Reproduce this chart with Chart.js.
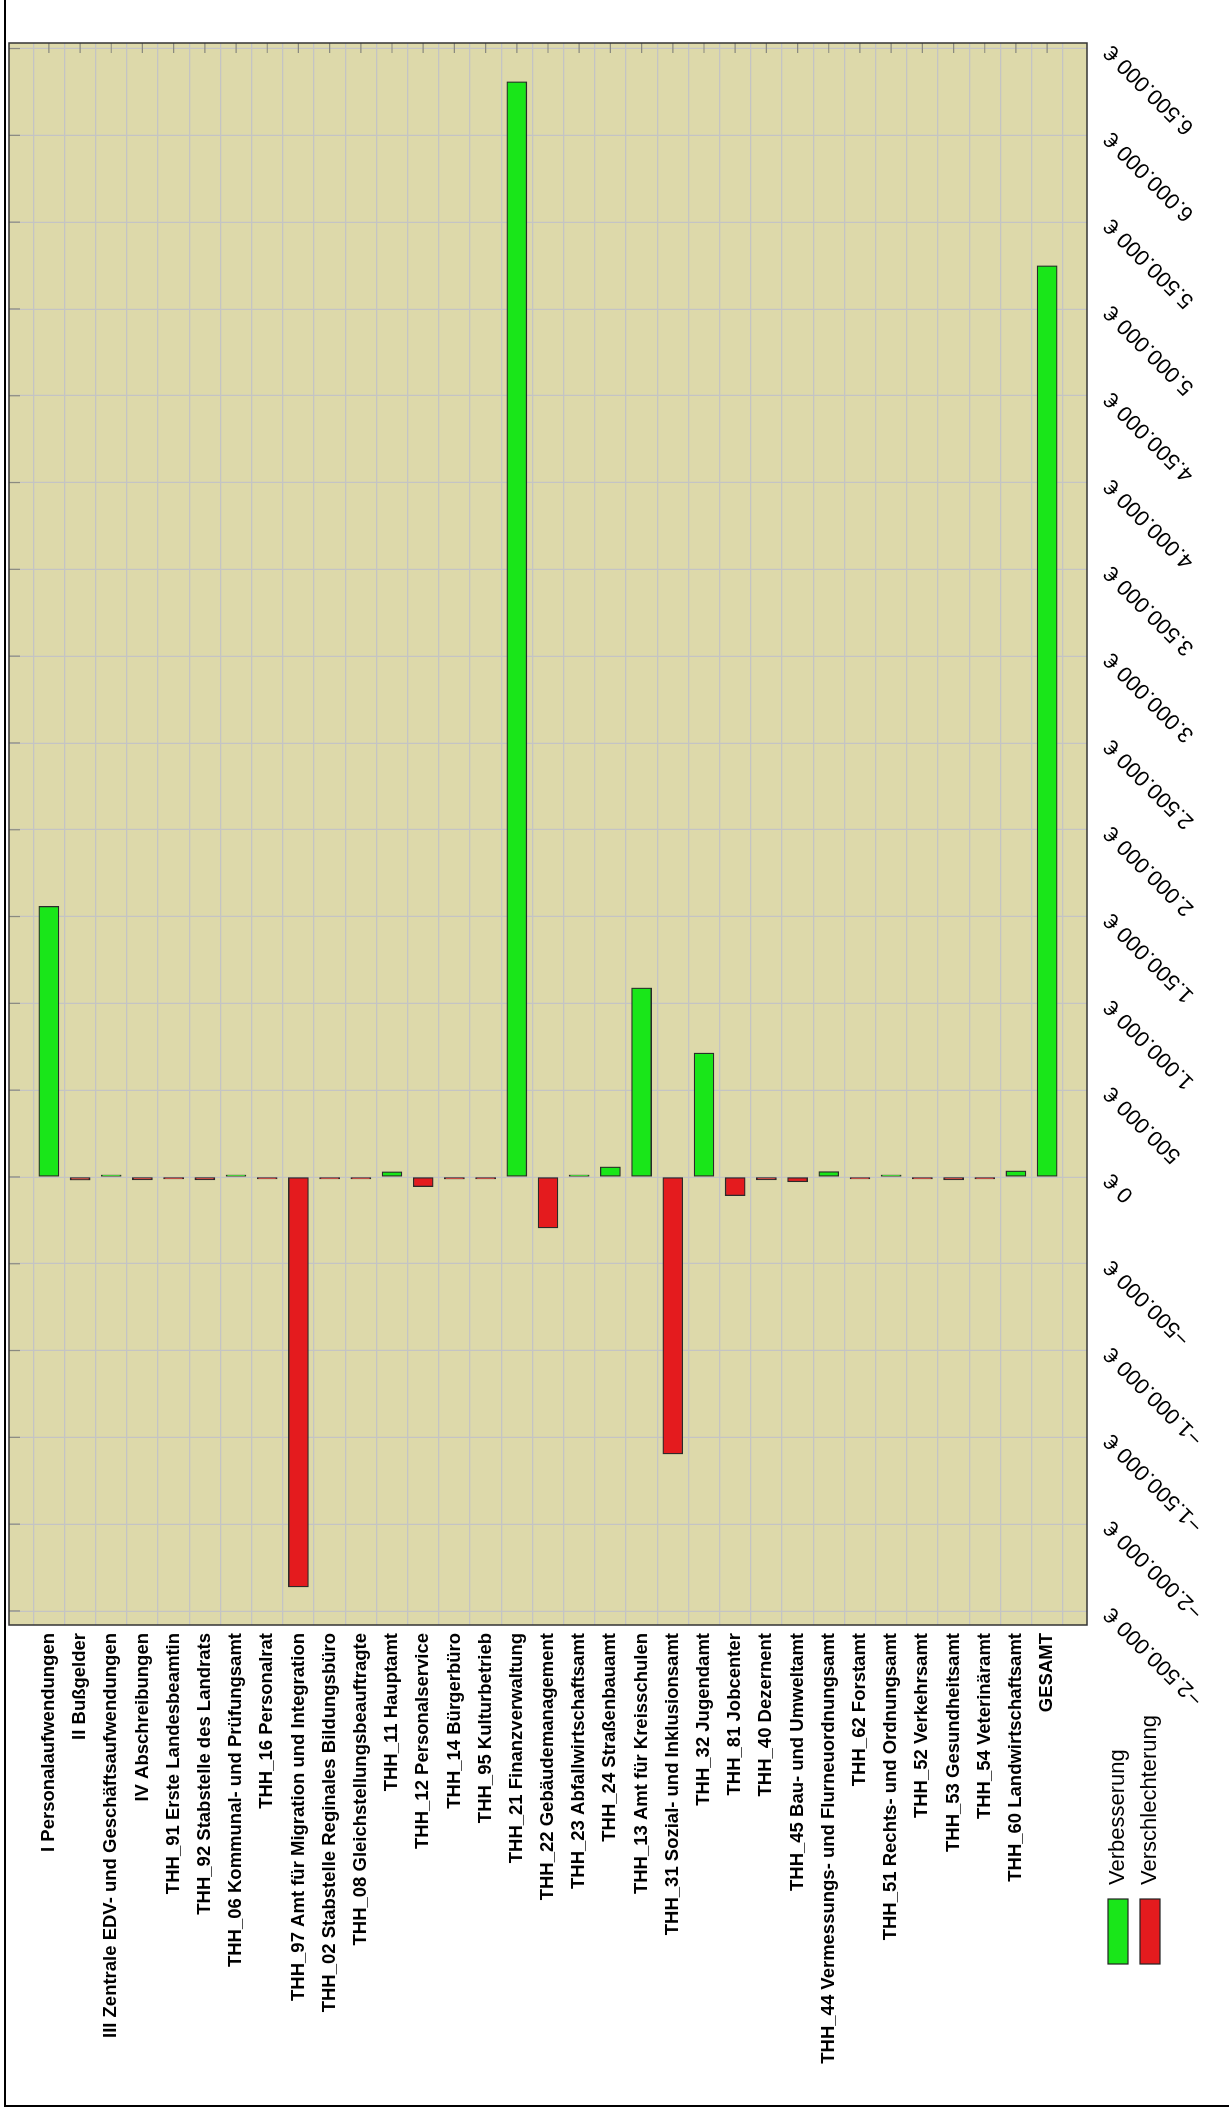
<!DOCTYPE html>
<html>
<head>
<meta charset="utf-8">
<script src="https://cdn.jsdelivr.net/npm/chart.js@4.4.0/dist/chart.umd.min.js"></script>
<style>
html,body{margin:0;padding:0;background:#fff;overflow:hidden}
#wrap{position:absolute;left:0;top:0;width:2111px;height:1229px;transform-origin:0 0;transform:translateY(2111px) rotate(-90deg);background:#fff}
#rahmen{position:absolute;left:4px;top:4px;width:2107px;height:1225px;border-left:2px solid #000;border-top:2px solid #000}
canvas{position:absolute;left:0;top:0}
</style>
</head>
<body>
<div id="wrap">
  <canvas id="chart" width="2111" height="1229"></canvas>
  <div id="rahmen"></div>
</div>
<script>
const kategorien = [
  "I Personalaufwendungen",
  "II Bußgelder",
  "III Zentrale EDV- und Geschäftsaufwendungen",
  "IV Abschreibungen",
  "THH_91 Erste Landesbeamtin",
  "THH_92 Stabstelle des Landrats",
  "THH_06 Kommunal- und Prüfungsamt",
  "THH_16 Personalrat",
  "THH_97 Amt für Migration und Integration",
  "THH_02 Stabstelle Reginales Bildungsbüro",
  "THH_08 Gleichstellungsbeauftragte",
  "THH_11 Hauptamt",
  "THH_12 Personalservice",
  "THH_14 Bürgerbüro",
  "THH_95 Kulturbetrieb",
  "THH_21 Finanzverwaltung",
  "THH_22 Gebäudemanagement",
  "THH_23 Abfallwirtschaftsamt",
  "THH_24 Straßenbauamt",
  "THH_13 Amt für Kreisschulen",
  "THH_31 Sozial- und Inklusionsamt",
  "THH_32 Jugendamt",
  "THH_81 Jobcenter",
  "THH_40 Dezernent",
  "THH_45 Bau- und Umweltamt",
  "THH_44 Vermessungs- und Flurneuordnungsamt",
  "THH_62 Forstamt",
  "THH_51 Rechts- und Ordnungsamt",
  "THH_52 Verkehrsamt",
  "THH_53 Gesundheitsamt",
  "THH_54 Veterinäramt",
  "THH_60 Landwirtschaftsamt",
  "GESAMT"
]

// Abweichung je Teilhaushalt in Euro
const werte = [
  1559000, -18000, 2000, -17000, -2000, -17000, 8000, -5000,
  -2362000, -5000, -8000, 30000, -56000, -12000, -9000, 6309000,
  -294000, 1000, 58000, 1089000, -1596000, 714000, -108000, -17000,
  -28000, 31000, -3000, 6000, -1000, -17000, -3000, 35000,
  5249000
]

const wertTicks = [
  -2500000, -2000000, -1500000, -1000000, -500000, 0,
  500000, 1000000, 1500000, 2000000, 2500000, 3000000, 3500000,
  4000000, 4500000, 5000000, 5500000, 6000000, 6500000
]

const serien = ["Verbesserung", "Verschlechterung"]
const farben = ["#19e619", "#e41b1e"]

const punkte = werte.map((v,i)=>({ x:v, y:i }))

function euro(v){
  const s = Math.abs(v).toLocaleString("de-DE")
  return (v<0 ? "\u2212" : "") + s + " \u20ac"
}

const hintergrund = {
  id:"hintergrund",
  beforeDraw(chart){
    const a = chart.chartArea, ctx = chart.ctx
    ctx.save()
    ctx.fillStyle = "#ddd9aa"
    ctx.fillRect(a.left, a.top, a.right-a.left, a.bottom-a.top)
    ctx.restore()
  },
  afterDraw(chart){
    const a = chart.chartArea, ctx = chart.ctx
    const sx = chart.scales.x, sy = chart.scales.y
    ctx.save()
    // kleine Striche innen am Rand
    ctx.strokeStyle = "#8a8a80"
    ctx.lineWidth = 1.2
    ctx.beginPath()
    wertTicks.forEach(v=>{
      const px = sx.getPixelForValue(v)
      ctx.moveTo(px, a.top); ctx.lineTo(px, a.top+11)
    })
    kategorien.forEach((k,i)=>{
      const py = sy.getPixelForValue(i)
      ctx.moveTo(a.right, py); ctx.lineTo(a.right-10, py)
    })
    ctx.stroke()
    ctx.strokeStyle = "#333"
    ctx.lineWidth = 1.5
    ctx.strokeRect(a.left, a.top, a.right-a.left, a.bottom-a.top)
    // Legende
    ctx.font = "22px 'Liberation Sans', Arial, sans-serif"
    ctx.textBaseline = "middle"
    ctx.textAlign = "left"
    chart.data.datasets.forEach((ds,i)=>{
      const y = 1108 + i*32
      ctx.fillStyle = ds.backgroundColor
      ctx.fillRect(147, y, 65, 20)
      ctx.strokeStyle = "#222"
      ctx.lineWidth = 1.2
      ctx.strokeRect(147, y, 65, 20)
      ctx.fillStyle = "#000"
      ctx.fillText(ds.label, 226, y+10)
    })
    ctx.restore()
  }
}

new Chart(document.getElementById("chart"), {
  type:"bar",
  data:{
    datasets:[
      { label:serien[0], data:punkte.filter(p=>p.x>=0), backgroundColor:farben[0] },
      { label:serien[1], data:punkte.filter(p=>p.x<0), backgroundColor:farben[1] }
    ]
  },
  options:{
    indexAxis:"y",
    responsive:false,
    animation:false,
    layout:{ padding:{ top:9, right:43, bottom:0, left:0 } },
    datasets:{ bar:{ grouped:false, barThickness:20, borderColor:"#2a2a2a", borderWidth:1.3, borderSkipped:false, minBarLength:2 } },
    plugins:{ legend:{ display:false }, tooltip:{ enabled:false } },
    scales:{
      x:{
        type:"linear",
        position:"bottom",
        min:-2581000,
        max:6532000,
        afterBuildTicks(scale){ scale.ticks = wertTicks.map(v=>({ value:v })) },
        afterFit(scale){ scale.height = 142; scale.paddingLeft = 0; scale.paddingRight = 0 },
        border:{ display:false },
        grid:{ color:"#c4c4c4", lineWidth:1.2, drawTicks:false },
        ticks:{
          autoSkip:false, minRotation:45, maxRotation:45, padding:12,
          color:"#000",
          font:{ family:"'Liberation Sans', Arial, sans-serif", size:22 },
          callback:v=>euro(v)
        }
      },
      y:{
        type:"linear",
        position:"left",
        reverse:true,
        min:-0.754,
        max:kategorien.length-1+0.754,
        afterBuildTicks(scale){ scale.ticks = kategorien.map((k,i)=>({ value:i })) },
        afterFit(scale){ scale.width = 486; scale.paddingTop = 0; scale.paddingBottom = 0 },
        border:{ display:false },
        grid:{ color:"#c4c4c4", lineWidth:1.2, drawTicks:false },
        ticks:{
          autoSkip:false, padding:8,
          color:"#000",
          font:{ family:"'Liberation Sans', Arial, sans-serif", size:18.5, weight:"bold" },
          callback:v=>kategorien[v] || ""
        }
      }
    }
  },
  plugins:[hintergrund]
})
</script>
</body>
</html>
